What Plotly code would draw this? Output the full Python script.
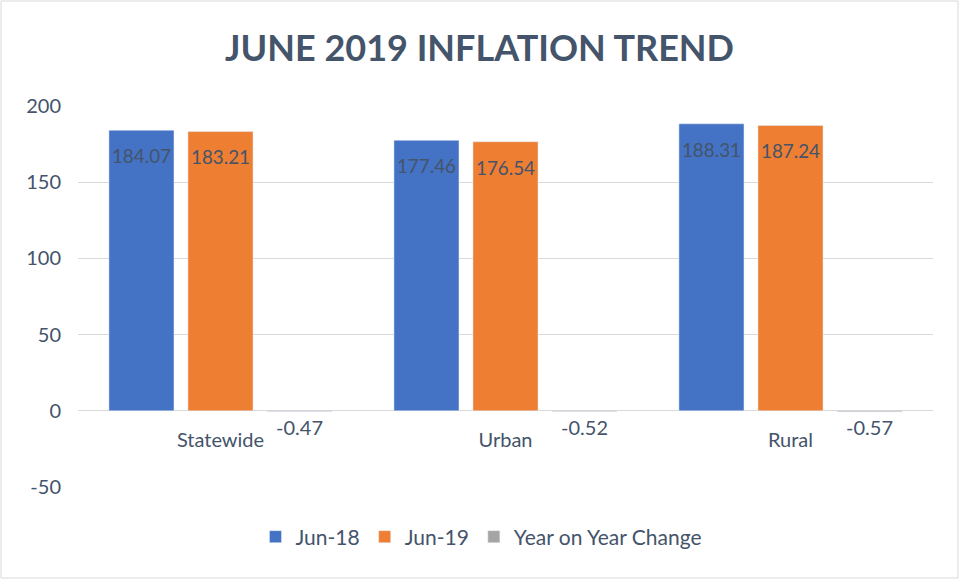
import plotly.graph_objects as go

categories = ["Statewide", "Urban", "Rural"]
jun18 = [184.07, 177.46, 188.31]
jun19 = [183.21, 176.54, 187.24]
yoy = [-0.47, -0.52, -0.57]
y_ticks = [-50, 0, 50, 100, 150, 200]
y_tick_text = ["-50", "0", "50", "100", "150", "200"]

W, H = 959, 579
ML, MR, MT, MB = 78, 26, 106, 92
TXT = "#44546A"
FONT = "Lato"

def lbl(vals):
    return ["<span style='font-size:6px'> </span><br>" + f"{v:.2f}" for v in vals]

fig = go.Figure()
fig.add_trace(go.Bar(
    name="Jun-18", x=categories, y=jun18, marker_color="#4472C4",
    text=lbl(jun18), textposition="inside", insidetextanchor="end",
    textfont=dict(color=TXT, size=21, family=FONT), textangle=0,
))
fig.add_trace(go.Bar(
    name="Jun-19", x=categories, y=jun19, marker_color="#EE7E32",
    text=lbl(jun19), textposition="inside", insidetextanchor="end",
    textfont=dict(color=TXT, size=21, family=FONT), textangle=0,
))
fig.add_trace(go.Bar(
    name="Year on Year Change", x=categories, y=yoy, marker_color="#A5A5A5",
    text=[f"{v:.2f}" for v in yoy], textposition="outside",
    textfont=dict(color=TXT, size=20, family=FONT), textangle=0, cliponaxis=False,
))

pw = W - ML - MR
ph = H - MT - MB

fig.update_layout(
    width=W, height=H,
    margin=dict(l=ML, r=MR, t=MT, b=MB),
    paper_bgcolor="white", plot_bgcolor="white",
    font=dict(family=FONT, color=TXT, size=20),
    title=dict(text="<b>JUNE 2019 INFLATION TREND</b>", x=0.5, xanchor="center",
               y=1 - 48 / H, yanchor="middle",
               font=dict(family=FONT, size=36, color=TXT)),
    barmode="group", bargap=0.168, bargroupgap=0.177,
    legend=dict(orientation="h", x=0.5 - 24 / pw, xanchor="center", y=-(537 - (H - MB)) / ph,
                yanchor="middle", font=dict(family=FONT, size=21, color=TXT),
                itemwidth=30, tracegroupgap=0),
    showlegend=True,
)
fig.update_yaxes(range=[-50, 200], tickvals=y_ticks, ticktext=y_tick_text, showgrid=True,
                 gridcolor="#D9D9D9", gridwidth=1, zeroline=True, zerolinecolor="#D9D9D9",
                 zerolinewidth=1, showline=False, ticks="", ticklabelstandoff=16,
                 tickfont=dict(family=FONT, size=20, color=TXT))
fig.update_xaxes(anchor="free", position=50 / 250, showline=False, ticks="",
                 ticklabelstandoff=15, tickfont=dict(family=FONT, size=20, color=TXT),
                 showgrid=False, zeroline=False)

# chart border
fig.add_shape(type="rect", xref="paper", yref="paper",
              x0=(1 - ML) / pw, x1=(W - 1 - ML) / pw,
              y0=-(MB - 1) / ph, y1=1 + (MT - 1) / ph,
              line=dict(color="#D9D9D9", width=1), fillcolor="rgba(0,0,0,0)", layer="below")

fig.write_html("out.html")
